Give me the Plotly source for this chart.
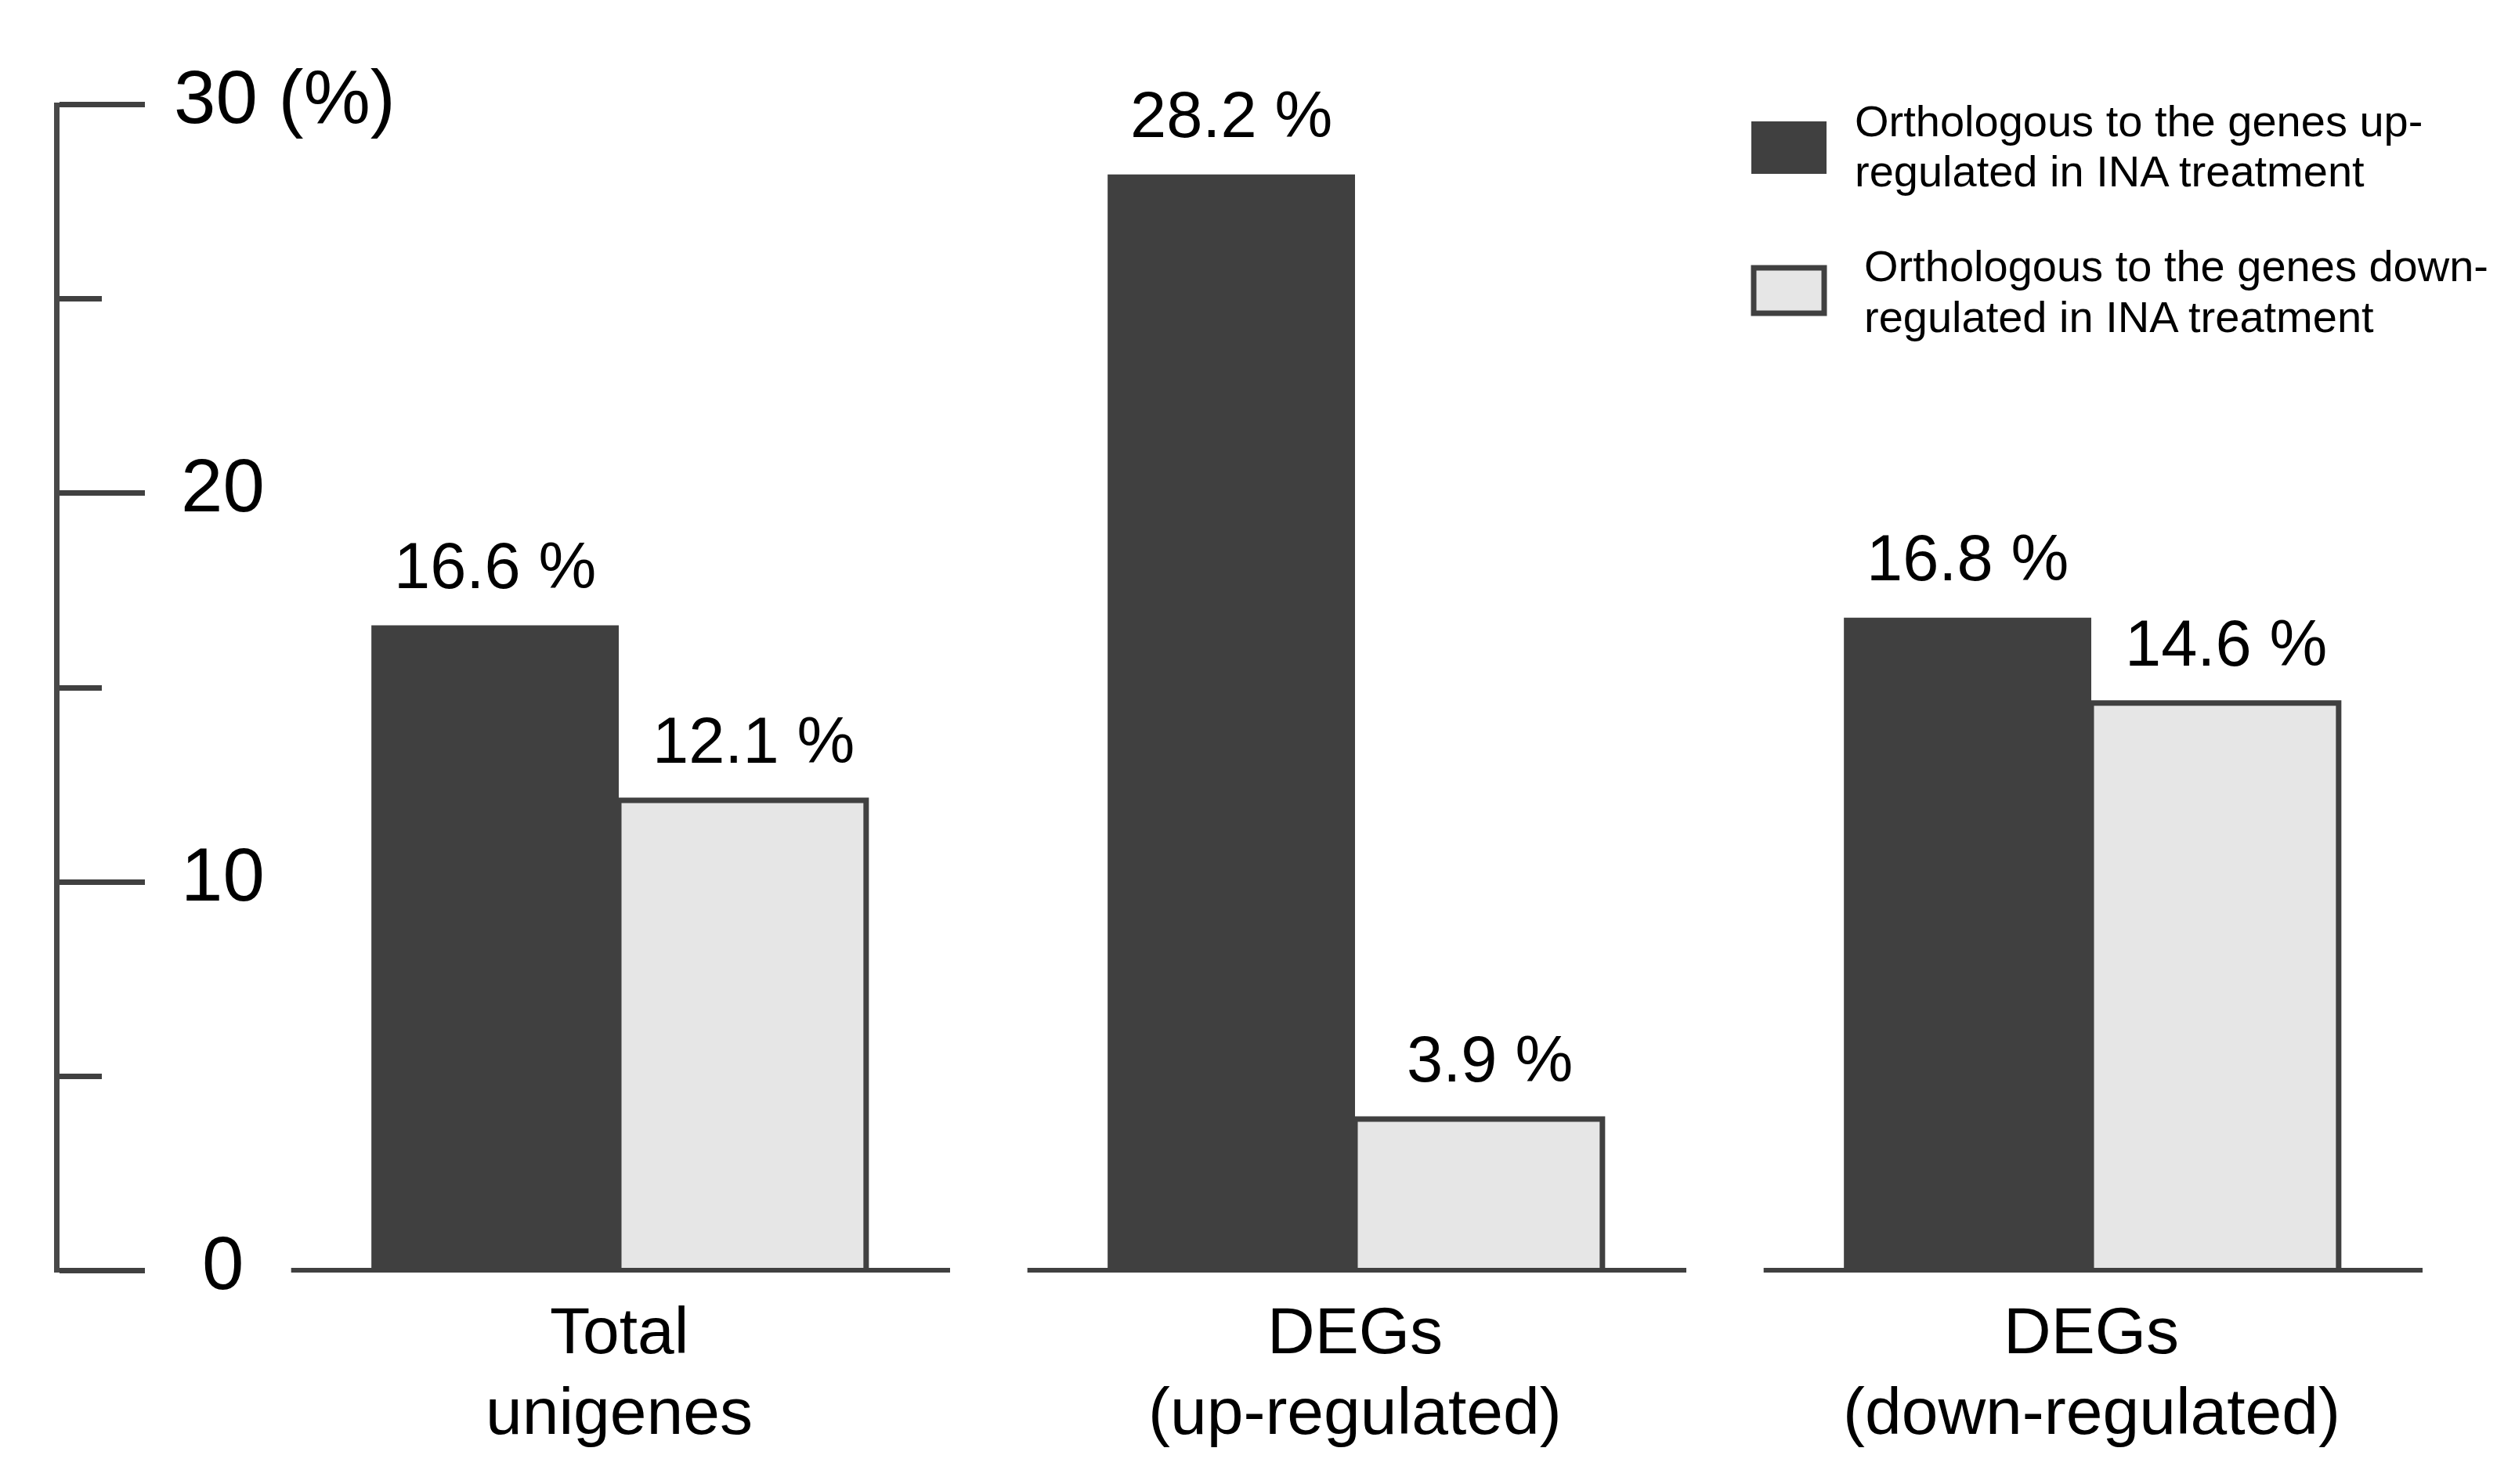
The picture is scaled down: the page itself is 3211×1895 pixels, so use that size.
import plotly.graph_objects as go

# ---- data ----
categories = [("Total", "unigenes"), ("DEGs", "(up-regulated)"), ("DEGs", "(down-regulated)")]
series_names = [("Orthologous to the genes up-", "regulated in INA treatment"),
                ("Orthologous to the genes down-", "regulated in INA treatment")]
up_values = [16.6, 28.2, 16.8]
down_values = [12.1, 3.9, 14.6]
y_ticks_major = [0, 10, 20, 30]
y_ticks_minor = [5, 15, 25]
y_tick_labels = ["0", "10", "20", "30 (%)"]

DARK = "#404040"
LIGHT = "#e6e6e6"
FONT = "Liberation Sans"

W, H = 3211, 1895
L, R, T, B = 68, 79, 123, 278
PW, PH = W - L - R, H - T - B

def px(x):
    return (x - L) / PW

def py(y):
    return (H - B - y) / PH

xpos = list(range(len(categories)))
bargap = 0.328
off = (1 - bargap) / 4

fig = go.Figure()
fig.add_bar(x=xpos, y=up_values, name=" ".join(series_names[0]),
            marker=dict(color=DARK, line=dict(color=DARK, width=0)), showlegend=False)
fig.add_bar(x=xpos, y=down_values, name=" ".join(series_names[1]),
            marker=dict(color=LIGHT, line=dict(color=DARK, width=7)), showlegend=False)

ann = []
vfont = dict(size=83, color="black", family=FONT)
cfont = dict(size=84, color="black", family=FONT)
tfont = dict(size=96, color="black", family=FONT)
lfont = dict(size=56, color="black", family=FONT)
# value labels
for i in xpos:
    ann.append(dict(x=i - off, y=up_values[i], xref="x", yref="y", text=f"{up_values[i]:.1f} %",
                    showarrow=False, yanchor="middle", yshift=76, font=vfont))
    ann.append(dict(x=i + off, y=down_values[i], xref="x", yref="y", text=f"{down_values[i]:.1f} %",
                    showarrow=False, yanchor="middle", yshift=76, xshift=14, font=vfont))
# category labels (two lines)
for i, (l1, l2) in zip(xpos, categories):
    ann.append(dict(x=i, y=0, xref="x", yref="y", text=l1, showarrow=False, yanchor="middle",
                    yshift=-76, font=cfont))
    ann.append(dict(x=i, y=0, xref="x", yref="y", text=l2, showarrow=False, yanchor="middle",
                    yshift=-179, font=cfont))
# y tick labels
for v, t in zip(y_ticks_major, y_tick_labels):
    if t.startswith("30"):
        ann.append(dict(x=0, y=v, xref="paper", yref="y", text=t, showarrow=False, xanchor="left",
                        yanchor="middle", xshift=144, yshift=10, font=tfont))
    else:
        ann.append(dict(x=0, y=v, xref="paper", yref="y", text=t, showarrow=False, xanchor="center",
                        yanchor="middle", xshift=208, yshift=10, font=tfont))
# legend text (line by line)
legend_text_x = [2358, 2370]
legend_line_y = [(147, 211), (332, 397)]
for (lines, tx, ys) in zip(series_names, legend_text_x, legend_line_y):
    for line, yy in zip(lines, ys):
        ann.append(dict(x=px(tx), y=py(yy), xref="paper", yref="paper", text=line, showarrow=False,
                        xanchor="left", yanchor="middle", font=lfont))

shapes = []
# baseline segments under each group
for i in xpos:
    shapes.append(dict(type="line", xref="x", yref="y", x0=i - 0.445, x1=i + 0.45, y0=0, y1=0,
                       line=dict(color=DARK, width=7), layer="above"))
# legend boxes
shapes.append(dict(type="rect", xref="paper", yref="paper", x0=px(2228), x1=px(2324), y0=py(214), y1=py(147),
                   fillcolor=DARK, line=dict(width=0)))
shapes.append(dict(type="rect", xref="paper", yref="paper", x0=px(2231), x1=px(2321), y0=py(392), y1=py(334),
                   fillcolor=LIGHT, line=dict(color=DARK, width=7)))

x_left = (L - 782) / 940
x_right = (W - R - 782) / 940

fig.update_layout(
    width=W, height=H,
    margin=dict(l=L, r=R, t=T, b=B),
    barmode="group", bargap=bargap, bargroupgap=0,
    plot_bgcolor="white", paper_bgcolor="white",
    font=dict(family=FONT, color="black"),
    annotations=ann, shapes=shapes,
    xaxis=dict(range=[x_left, x_right],
               showline=False, showgrid=False, zeroline=False, showticklabels=False, ticks=""),
    yaxis=dict(range=[-0.05, 30.05], showline=True, linecolor="#484848", linewidth=7, showgrid=False,
               zeroline=False, ticks="inside", tickvals=y_ticks_major, ticklen=109, tickwidth=7,
               tickcolor=DARK, showticklabels=False,
               minor=dict(tickvals=y_ticks_minor, ticks="inside", ticklen=54, tickwidth=7, tickcolor=DARK)),
)

fig.write_html("out.html")
